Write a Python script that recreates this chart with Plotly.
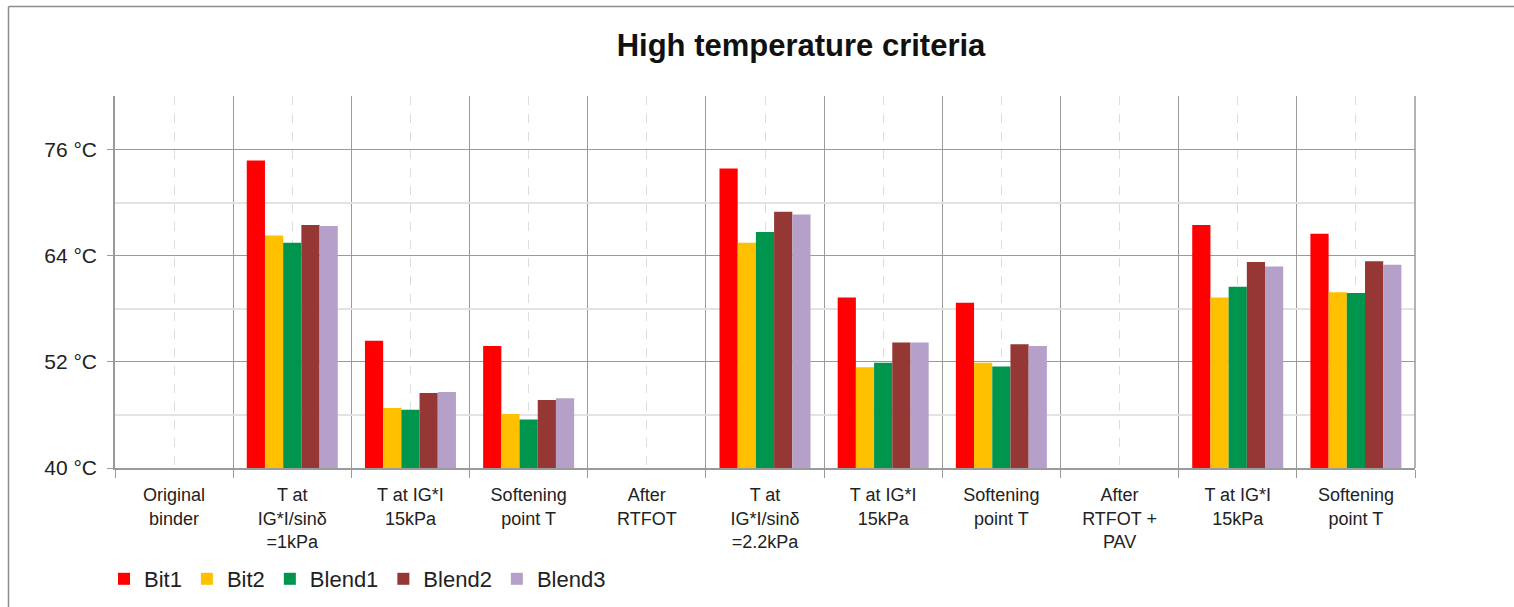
import plotly.graph_objects as go

categories = [
    "Original<br>binder",
    "T at<br>IG*I/sinδ<br>=1kPa",
    "T at IG*I<br>15kPa",
    "Softening<br>point T",
    "After<br>RTFOT",
    "T at<br>IG*I/sinδ<br>=2.2kPa",
    "T at IG*I<br>15kPa",
    "Softening<br>point T",
    "After<br>RTFOT +<br>PAV",
    "T at IG*I<br>15kPa",
    "Softening<br>point T",
]

series_names = ["Bit1", "Bit2", "Blend1", "Blend2", "Blend3"]
bit1 = [None, 74.8, 54.4, 53.8, None, 73.9, 59.3, 58.7, None, 67.5, 66.5]
bit2 = [None, 66.3, 46.8, 46.1, None, 65.5, 51.4, 51.9, None, 59.3, 59.9]
blend1 = [None, 65.5, 46.6, 45.5, None, 66.7, 51.9, 51.5, None, 60.5, 59.8]
blend2 = [None, 67.5, 48.5, 47.7, None, 69.0, 54.2, 54.0, None, 63.3, 63.4]
blend3 = [None, 67.4, 48.6, 47.9, None, 68.7, 54.2, 53.8, None, 62.8, 63.0]
series_values = [bit1, bit2, blend1, blend2, blend3]
colors = ["#FF0000", "#FFC000", "#00954C", "#953735", "#B4A0C8"]

y_major = [40, 52, 64, 76]
y_minor = [46, 58, 70, 82]
y_range = [40, 82.1]

FONT = "Liberation Sans, Arial, sans-serif"

x_pos = list(range(len(categories)))
fig = go.Figure()
for name, vals, col in zip(series_names, series_values, colors):
    fig.add_trace(go.Bar(x=x_pos, y=vals, name=name, marker=dict(color=col, line=dict(width=0))))

W, H = 1514, 607
L, R, T, B = 115, 1415, 96, 468
fig.update_layout(
    width=W, height=H,
    margin=dict(l=L, r=W - R, t=T, b=H - B, autoexpand=False),
    paper_bgcolor="white", plot_bgcolor="white",
    barmode="group", bargap=0.23, bargroupgap=0,
    font=dict(family=FONT, color="#222222"),
    title=dict(text="<b>High temperature criteria</b>", font=dict(size=31, color="#111111", family=FONT),
               x=(801 - L) / (R - L), xref="paper", xanchor="center",
               y=1 - 45 / H, yref="container", yanchor="middle"),
    legend=dict(orientation="h", x=(104 - L) / (R - L), xanchor="left",
                y=(B - 579) / (B - T), yanchor="middle",
                font=dict(size=22, color="#222222", family=FONT),
                itemwidth=30, tracegroupgap=0, bgcolor="rgba(0,0,0,0)"),
    xaxis=dict(
        range=[-0.5, len(categories) - 0.5],
        tickmode="array", tickvals=x_pos, ticktext=categories,
        tickfont=dict(size=18, color="#222222", family=FONT),
        ticks="", showgrid=True, gridcolor="#DDDDDD", griddash="dash", gridwidth=1,
        ticklabelstandoff=10,
        minor=dict(tickmode="array", tickvals=[i - 0.5 for i in range(len(categories) + 1)],
                   showgrid=True, gridcolor="#9A9A9A", gridwidth=1.3, griddash="solid",
                   ticks="outside", ticklen=8, tickcolor="#9A9A9A", tickwidth=1.3),
        showline=True, linecolor="#9A9A9A", linewidth=1.5,
        zeroline=False, fixedrange=True,
    ),
    yaxis=dict(
        range=y_range,
        tickmode="array", tickvals=y_major, ticktext=[f"{v} °C" for v in y_major],
        tickfont=dict(size=21, color="#222222", family=FONT),
        ticks="outside", ticklen=6, tickcolor="#9A9A9A", tickwidth=1.3,
        showgrid=True, gridcolor="#9A9A9A", gridwidth=1.3,
        ticklabelstandoff=6,
        minor=dict(tickmode="array", tickvals=y_minor, showgrid=True,
                   gridcolor="#E3E3E3", gridwidth=1.5, griddash="solid"),
        showline=True, linecolor="#9A9A9A", linewidth=1.5, mirror=False,
        zeroline=False, fixedrange=True,
    ),
    showlegend=True,
)

# right frame of the plot area
fig.add_shape(type="line", xref="paper", yref="paper", x0=1, x1=1, y0=0, y1=1,
              line=dict(color="#9A9A9A", width=1.5), layer="above")

# chart-area border (left and top edges; others fall outside the picture)
bx = (8.5 - L) / (R - L)
by = (B - 6.5) / (B - T)
fig.add_shape(type="line", xref="paper", yref="paper", x0=bx, x1=bx, y0=-1, y1=by,
              line=dict(color="#8C8C8C", width=1.5))
fig.add_shape(type="line", xref="paper", yref="paper", x0=bx, x1=1.2, y0=by, y1=by,
              line=dict(color="#8C8C8C", width=1.5))

fig.write_html("out.html", config={"displayModeBar": False},
               post_script="document.body.style.margin='0';document.body.style.overflow='hidden';")
